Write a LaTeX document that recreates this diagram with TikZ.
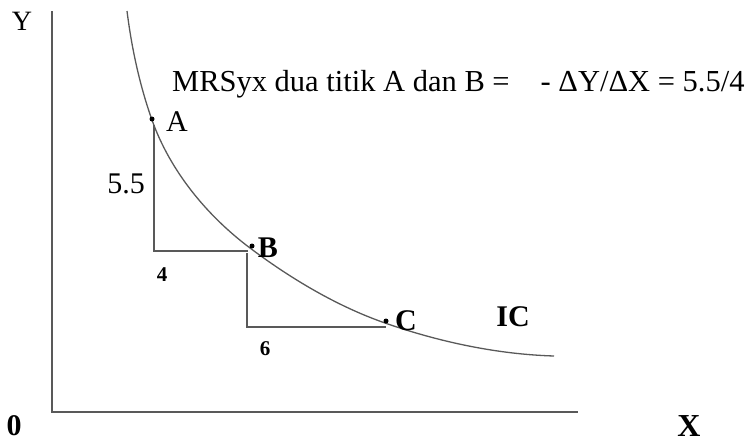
\documentclass[tikz,border=0pt]{standalone}
\usepackage{fontspec}
\setmainfont{Liberation Serif}
\begin{document}
\begin{tikzpicture}[x=1pt,y=-1pt,
  axisline/.style={draw=black!65,line width=1.8pt},
  thinline/.style={draw=black!65,line width=1.3pt},
  lbl/.style={inner sep=0pt,font=\fontsize{30}{32}\selectfont},
  blbl/.style={inner sep=0pt,font=\fontsize{30}{32}\selectfont\bfseries},
  smalllbl/.style={inner sep=0pt,font=\fontsize{21}{23}\selectfont\bfseries},
  ptdot/.style={circle,fill=black,inner sep=0pt,minimum size=5pt}]
\useasboundingbox (0,0) rectangle (746,442);
% axes
\coordinate (ytop) at (52,11);
\coordinate (orig) at (52,412);
\coordinate (xend) at (578,412);
\draw[axisline] (ytop) -- (orig) -- (xend);
\node[lbl,font=\fontsize{28}{30}\selectfont] (ylab) at (22,21) {Y};
\node[blbl] (zero) at (14,426) {0};
\node[blbl,font=\fontsize{32}{34}\selectfont\bfseries] (xlab) at (689,426) {X};
% points on the curve
\coordinate (top) at (127,11);
\coordinate (pA) at (152,120);
\coordinate (pB) at (250,248);
\coordinate (pC) at (385,323);
\coordinate (ende) at (554,356);
% indifference curve
\draw[thinline] (top) .. controls (131.6,47.7) and (139.6,85.1) .. (pA)
  .. controls (170.1,170.9) and (206.8,215.6) .. (pB)
  .. controls (290.8,278.6) and (336.9,306.2) .. (pC)
  .. controls (438.8,341.8) and (497,354.3) .. (ende);
\node[blbl] (iclab) at (513,317) {IC};
% points
\node[ptdot] (A) at (152,119) {};
\node[ptdot] (B) at (252,246) {};
\node[ptdot] (C) at (386,321) {};
\node[lbl] (Alab) at (177,122) {A};
\node[blbl] (Blab) at (268,248) {B};
\node[blbl] (Clab) at (406,321) {C};
% triangle A-B
\coordinate (t1top) at (154,125);
\coordinate (t1corner) at (154,251);
\coordinate (t1end) at (248,251);
\draw[thinline] (t1top) -- (t1corner) -- (t1end);
\node[lbl] (dy1) at (126,184) {5.5};
\node[smalllbl] (dx1) at (162,275) {4};
% triangle B-C
\coordinate (t2top) at (247,253);
\coordinate (t2corner) at (247,327);
\coordinate (t2end) at (386,327);
\draw[thinline] (t2top) -- (t2corner) -- (t2end);
\node[smalllbl] (dx2) at (265,349) {6};
% formula
\node[lbl,font=\fontsize{30.5}{32}\selectfont,anchor=base west] (mrs) at (172,91) {MRSyx dua titik A dan B =\hspace{31pt}- ΔY/ΔX = 5.5/4};
\end{tikzpicture}
\end{document}
